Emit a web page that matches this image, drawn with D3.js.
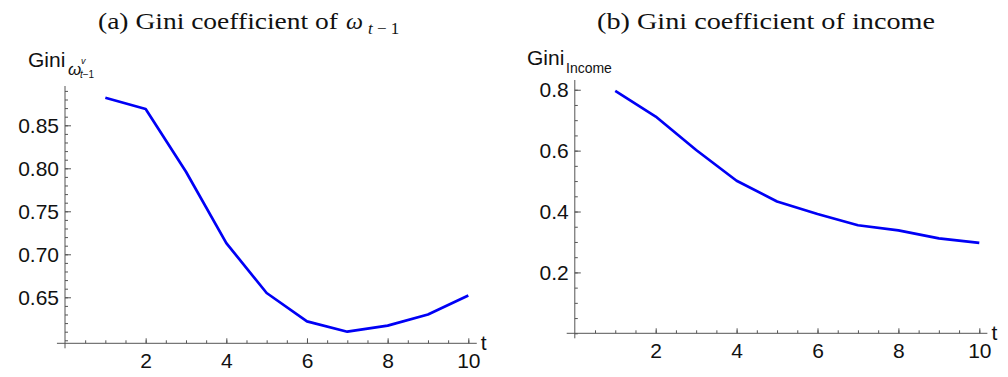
<!DOCTYPE html>
<html>
<head>
<meta charset="utf-8">
<script src="https://cdn.jsdelivr.net/npm/d3@7"></script>
<style>
  body { margin: 0; background: #fff; }
  .tick text { font-family: "Liberation Sans", Arial, sans-serif; fill: #111; }
  .domain, .tick line { stroke: #555; }
  .sans { font-family: "Liberation Sans", Arial, sans-serif; fill: #111; }
  .serif { font-family: "Liberation Serif", "Times New Roman", serif; fill: #111; }
</style>
</head>
<body>
<div class="canvas"></div>
<script>
// Data
const periods = [1, 2, 3, 4, 5, 6, 7, 8, 9, 10]
const giniOmega = [0.882, 0.869, 0.796, 0.713, 0.655, 0.622, 0.610, 0.617, 0.630, 0.652]
const giniIncome = [0.796, 0.712, 0.602, 0.501, 0.433, 0.392, 0.355, 0.338, 0.312, 0.297]
const xMajorTicks = [2, 4, 6, 8, 10]
const yMajorTicksA = [0.65, 0.70, 0.75, 0.80, 0.85]
const yMajorTicksB = [0.2, 0.4, 0.6, 0.8]

const svg = d3.select('.canvas')
  .append('svg')
    .attr('width', 1008)
    .attr('height', 377)

const panels = [
  {
    values: giniOmega,
    xRange: [65, 468.3],
    xDomain: [-0.2, 10.21],
    yDomain: [0.5965, 0.8957],
    yRange: [343.3, 86],
    yTicks: yMajorTicksA,
    yMinorStep: 0.01,
    yFormat: d3.format('.2f')
  },
  {
    values: giniIncome,
    xRange: [574.8, 979.3],
    xDomain: [-0.2, 10.2],
    yDomain: [0, 0.832],
    yRange: [333.3, 80],
    yTicks: yMajorTicksB,
    yMinorStep: 0.05,
    yFormat: d3.format('.1f')
  }
]

panels.forEach(p => {
  const x = d3.scaleLinear().domain([0, 10]).range(p.xRange)
  const y = d3.scaleLinear().domain(p.yDomain).range(p.yRange)
  const g = svg.append('g')

  // minor ticks
  const xMinor = d3.range(0.5, 10.01, 0.5)
  const yMinor = d3.range(Math.ceil(p.yDomain[0] / p.yMinorStep) * p.yMinorStep, p.yDomain[1], p.yMinorStep)

  const y0 = y(p.yDomain[0])
  const x0 = x(0)

  g.append('g')
    .attr('transform', `translate(0,${y0})`)
    .call(d3.axisBottom(x).tickValues(xMinor).tickSize(-3).tickFormat(''))
    .call(s => s.select('.domain').remove())

  g.append('g')
    .attr('transform', `translate(${x0},0)`)
    .call(d3.axisLeft(y).tickValues(yMinor).tickSize(-3).tickFormat(''))
    .call(s => s.select('.domain').remove())

  // major x axis
  const xAxis = g.append('g')
    .attr('transform', `translate(0,${y0})`)
    .call(d3.axisBottom(x).tickValues(xMajorTicks).tickSize(-5).tickPadding(10).tickFormat(d3.format('d')))
  xAxis.select('.domain').remove()
  xAxis.selectAll('text').style('font-size', '21px')
  g.append('line')
    .attr('x1', x(p.xDomain[0])).attr('x2', x(p.xDomain[1]))
    .attr('y1', y0).attr('y2', y0)
    .attr('stroke', '#555')

  // major y axis
  const yAxis = g.append('g')
    .attr('transform', `translate(${x0},0)`)
    .call(d3.axisLeft(y).tickValues(p.yTicks).tickSize(-6).tickPadding(6).tickFormat(p.yFormat))
  yAxis.select('.domain').remove()
  yAxis.selectAll('text').style('font-size', '21px')
  g.append('line')
    .attr('x1', x0).attr('x2', x0)
    .attr('y1', y0 + 5).attr('y2', p.yRange[1])
    .attr('stroke', '#555')

  // axis label t
  g.append('text')
    .attr('class', 'sans')
    .attr('x', x(p.xDomain[1]) + 4)
    .attr('y', y0 + 7)
    .style('font-size', '21px')
    .text('t')

  // line
  const line = d3.line()
    .x((d, i) => x(periods[i]))
    .y(d => y(d))

  g.append('path')
    .datum(p.values)
    .attr('d', line)
    .attr('fill', 'none')
    .attr('stroke', '#0000f5')
    .attr('stroke-width', 2.7)
    .attr('stroke-linejoin', 'round')
})

// titles
svg.append('text').attr('class', 'serif')
  .attr('x', 98).attr('y', 29)
  .attr('textLength', 240).attr('lengthAdjust', 'spacingAndGlyphs')
  .style('font-size', '23px')
  .text('(a) Gini coefficient of')
svg.append('text').attr('class', 'serif')
  .attr('x', 346).attr('y', 29)
  .style('font-size', '24px').style('font-style', 'italic')
  .text('ω')
svg.append('text').attr('class', 'serif')
  .attr('x', 368).attr('y', 34)
  .style('font-size', '17px')
  .html('<tspan font-style="italic">t</tspan> − 1')

svg.append('text').attr('class', 'serif')
  .attr('x', 597).attr('y', 29)
  .attr('textLength', 338).attr('lengthAdjust', 'spacingAndGlyphs')
  .style('font-size', '23px')
  .text('(b) Gini coefficient of income')

// y-axis labels
svg.append('text').attr('class', 'sans')
  .attr('x', 28).attr('y', 67)
  .style('font-size', '21px')
  .text('Gini')
svg.append('text').attr('class', 'sans')
  .attr('x', 68).attr('y', 75)
  .style('font-size', '17px').style('font-style', 'italic')
  .text('ω')
svg.append('text').attr('class', 'sans')
  .attr('x', 81).attr('y', 64)
  .style('font-size', '9px').style('font-style', 'italic')
  .text('v')
svg.append('text').attr('class', 'sans')
  .attr('x', 80).attr('y', 78)
  .style('font-size', '10px')
  .html('<tspan font-style="italic">t</tspan>−1')

svg.append('text').attr('class', 'sans')
  .attr('x', 527).attr('y', 65)
  .style('font-size', '21px')
  .text('Gini')
svg.append('text').attr('class', 'sans')
  .attr('x', 566).attr('y', 73)
  .style('font-size', '14px')
  .text('Income')
</script>
</body>
</html>
